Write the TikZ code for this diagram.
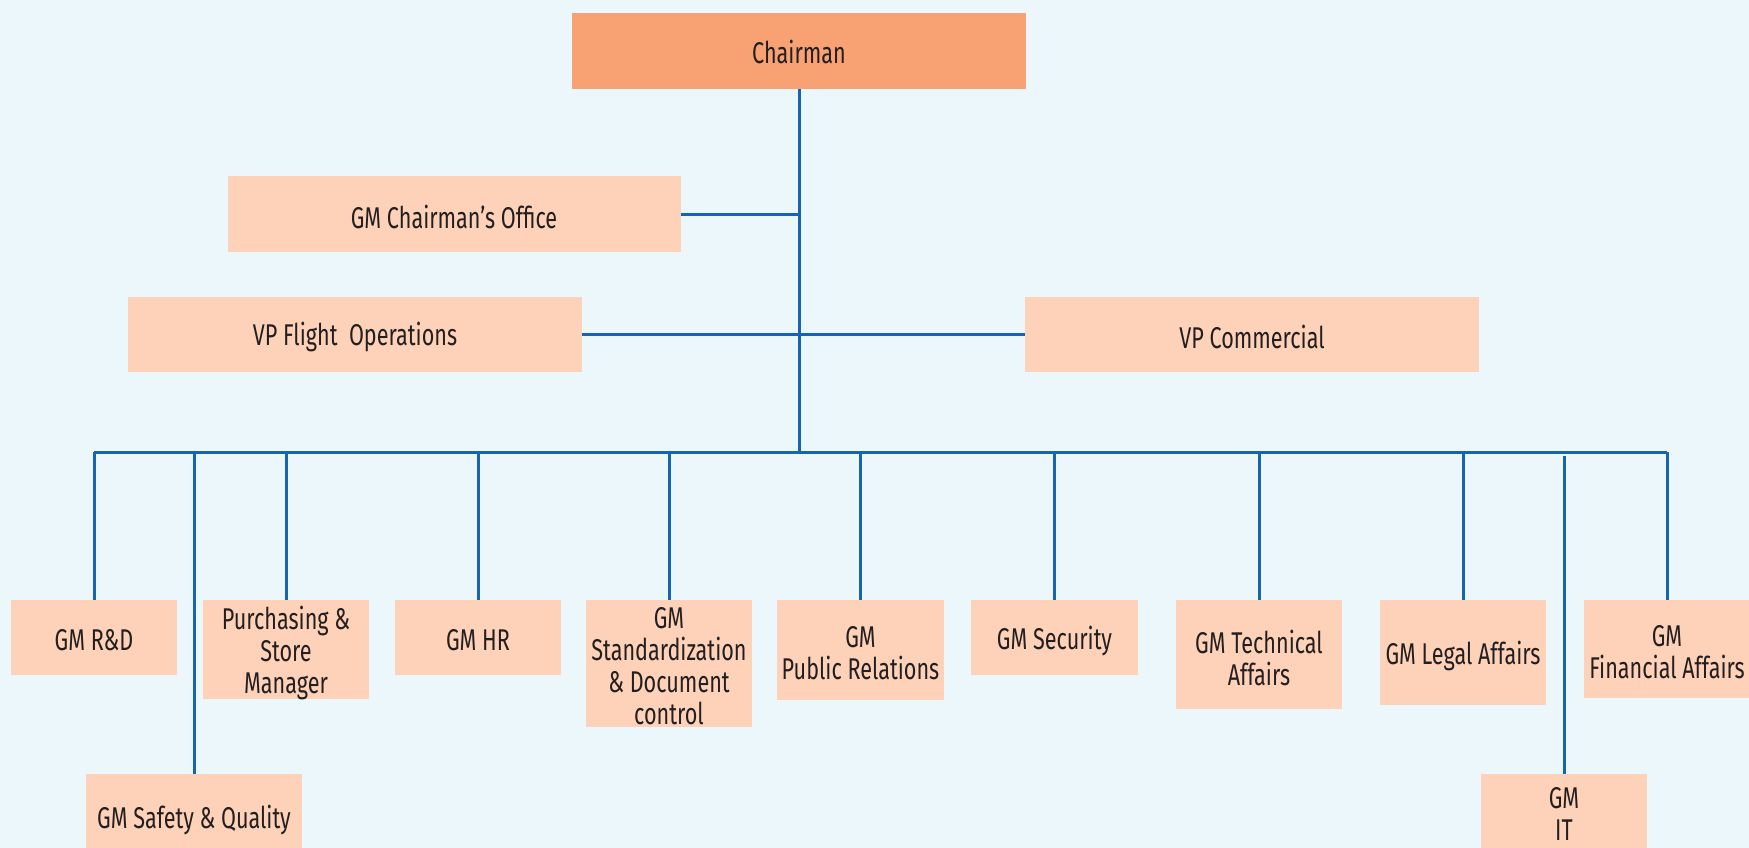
\documentclass[tikz,border=0pt]{standalone}
\usepackage{fontspec}
\setmainfont{Fira Sans}[FakeStretch=0.72]
\definecolor{bgc}{RGB}{236,247,252}
\definecolor{chairc}{RGB}{248,162,116}
\definecolor{boxc}{RGB}{253,210,184}
\definecolor{linec}{RGB}{21,101,178}
\definecolor{txtc}{RGB}{35,31,32}
\tikzset{
  txt/.style={inner sep=0pt, align=center, text=txtc,
    font=\fontsize{30}{32}\selectfont, yshift=-3pt},
  unit/.style={fill=boxc, draw=none, inner sep=0pt},
  chairbox/.style={unit, fill=chairc},
  conn/.style={draw=linec, line width=3pt}
}
\begin{document}
\begin{tikzpicture}[x=1pt,y=-1pt]
\fill[bgc] (0,0) rectangle (1749,848);
\useasboundingbox (0,0) rectangle (1749,848);
\clip (0,0) rectangle (1749,848);
% top level
\node[chairbox, minimum width=454pt, minimum height=76pt,
  label={[txt, yshift=2pt]center:Chairman}] (chair) at (799,51) {};
\node[unit, minimum width=453pt, minimum height=76pt,
  label={[txt]center:GM Chairman’s Office}] (office) at (454,214) {};
\node[unit, minimum width=454pt, minimum height=75pt,
  label={[txt]center:VP Flight\ \ Operations}] (vpf) at (355,334) {};
\node[unit, minimum width=454pt, minimum height=75pt,
  label={[txt]center:VP Commercial}] (vpc) at (1252,334) {};
% bottom row
\node[unit, minimum width=166pt, minimum height=75pt,
  label={[txt]center:GM R\&D}] (rd) at (94,637.5) {};
\node[unit, minimum width=166pt, minimum height=99pt,
  label={[txt]center:Purchasing \&\\Store\\Manager}] (pur) at (286,649.5) {};
\node[unit, minimum width=166pt, minimum height=75pt,
  label={[txt]center:GM HR}] (hr) at (478,637.5) {};
\node[unit, minimum width=166pt, minimum height=127pt,
  label={[txt]center:GM\\Standardization\\\& Document\\control}] (std) at (669,663.5) {};
\node[unit, minimum width=167pt, minimum height=100pt,
  label={[txt]center:GM\\Public Relations}] (pr) at (860.5,650) {};
\node[unit, minimum width=167pt, minimum height=75pt,
  label={[txt]center:GM Security}] (sec) at (1054.5,637.5) {};
\node[unit, minimum width=166pt, minimum height=109pt,
  label={[txt]center:GM Technical\\Affairs}] (tech) at (1259,654.5) {};
\node[unit, minimum width=166pt, minimum height=105pt,
  label={[txt]center:GM Legal Affairs}] (legal) at (1463,652.5) {};
\node[unit, minimum width=166pt, minimum height=98pt,
  label={[txt]center:GM\\Financial Affairs}] (fin) at (1667,649) {};
\node[unit, minimum width=216pt, minimum height=84pt,
  label={[txt, yshift=-1pt]center:GM Safety \& Quality}] (safe) at (194,816) {};
\node[unit, minimum width=166pt, minimum height=84pt,
  label={[txt, yshift=5pt]center:GM\\IT}] (it) at (1564,816) {};
% connectors
\coordinate (bus) at (801,452);
\coordinate (itstart) at (1565,456);
\draw[conn] (chair.south) -- (chair.south |- bus);
\draw[conn] (office.east) -- (office.east -| chair.south);
\draw[conn] (vpf.east) -- (vpc.west);
\draw[conn] (rd.north |- bus) -- (fin.north |- bus);
\foreach \n in {rd,pur,hr,std,pr,sec,tech,legal,fin,safe}{
  \draw[conn] (\n.north) -- (\n.north |- bus);
}
\draw[conn] (it.north) -- (it.north |- itstart);
\end{tikzpicture}
\end{document}
